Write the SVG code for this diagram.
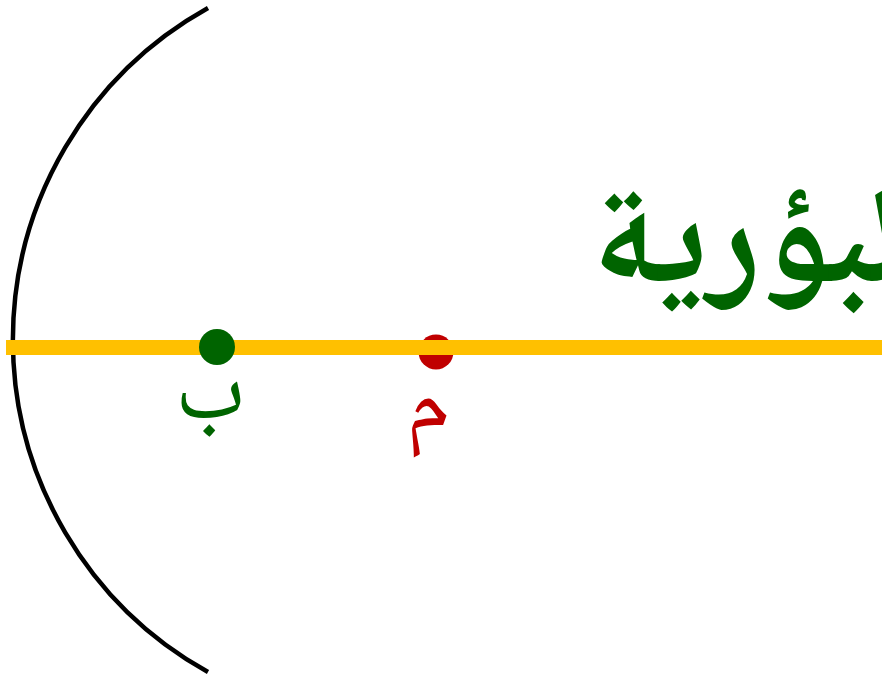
<svg xmlns="http://www.w3.org/2000/svg" width="882" height="675" viewBox="0 0 882 675">
<style>
.lbl{font-family:"Noto Naskh Arabic",sans-serif;font-size:90px;text-anchor:middle;}
.ttl{font-family:"Noto Naskh Arabic",sans-serif;font-size:142px;font-weight:bold;fill:#006400;}
</style>
<rect width="882" height="675" fill="#fff"/>
<g id="mirror"><path d="M208,8 A380,380 0 0 0 208,672" fill="none" stroke="#000" stroke-width="4.5"/></g>
<g id="center-dot"><circle cx="436" cy="352" r="17.5" fill="#c00000"/></g>
<g id="connectors"><line x1="6" y1="347.5" x2="882" y2="347.5" stroke="#ffc000" stroke-width="15"/></g>
<g id="focus"><circle cx="217" cy="347" r="18" fill="#006400"/>
<text class="lbl" x="210" y="418" fill="#006400">ب</text></g>
<g id="center"><text class="lbl" x="428" y="430" fill="#c00000">م</text></g>
<g id="title"><text class="ttl" x="592" y="282">البؤرية</text></g>
</svg>
